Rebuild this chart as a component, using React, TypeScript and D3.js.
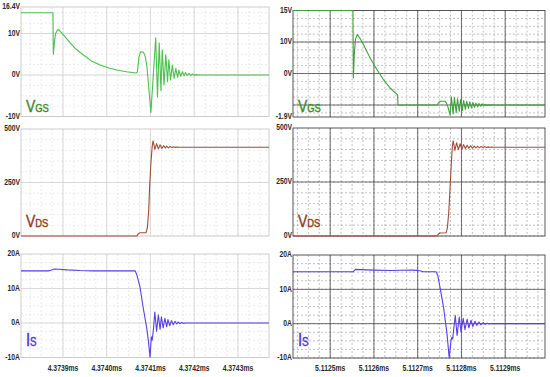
import * as d3 from "d3";

// time axis: ns after 4.3738 ms (left column) and after 5.1124 ms (right column)
const T_TICKS = [100, 200, 300, 400, 500];
const LEFT_T_LABELS = ["4.3739ms", "4.3740ms", "4.3741ms", "4.3742ms", "4.3743ms"];
const RIGHT_T_LABELS = ["5.1125ms", "5.1126ms", "5.1127ms", "5.1128ms", "5.1129ms"];

const VGS_L_TICKS = [16.4, 10, 0, -10];
const VGS_L_LABELS = ["16.4V", "10V", "0V", "-10V"];
const VGS_R_TICKS = [15, 10, 5, -1.9];
const VGS_R_LABELS = ["15V", "10V", "0V", "-1.9V"];
const VDS_TICKS = [500, 250, 0];
const VDS_LABELS = ["500V", "250V", "0V"];
const IS_TICKS = [20, 10, 0, -10];
const IS_LABELS = ["20A", "10A", "0A", "-10A"];

const LEFT_VGS: [number, number][] = [
  [4, 15], [77, 15], [78, 5], [80, 7.5], [83, 10], [88, 11], [93, 10.6], [100, 9.8],
  [116, 7.8], [130, 6.2], [146, 4.9], [165, 3.4], [185, 2.4], [205, 1.7], [223, 1.2],
  [245, 0.8], [267, 0.5], [270, 0.7], [274, 4.5], [278, 5.6], [284, 5.5], [288, 4.5],
  [292, 2.0], [296, -3], [301, -9], [312, 9.0], [316, -5.3], [320, 7.7], [324, -3.7],
  [327, 6.1], [331, -2.4], [335, 4.9], [339, -1.6], [342, 3.7], [346, -1.2], [350, 2.4],
  [354, -0.8], [358, 1.6], [362, -0.6], [365, 1.2], [369, -0.3], [373, 0.8], [377, -0.2],
  [380, 0.6], [384, -0.1], [388, 0.4], [392, -0.1], [396, 0.25], [400, -0.05], [404, 0.1],
  [410, 0], [571, 0],
];

const LEFT_VDS: [number, number][] = [
  [4, 0], [269, 0], [272, 10], [276, 15], [290, 16], [293, 40], [296, 120], [298, 228],
  [301, 340], [304, 420], [306, 445], [310, 405], [314, 432], [318, 407], [322, 426],
  [326, 409], [330, 422], [334, 411], [337, 420], [341, 412], [345, 418], [349, 413],
  [353, 417], [357, 414], [361, 416], [365, 414.5], [370, 415], [571, 415],
];

const LEFT_IS: [number, number][] = [
  [4, 15.1], [66, 15.1], [72, 15.3], [80, 15.65], [90, 15.6], [110, 15.4], [140, 15.2],
  [169, 15.1], [265, 15.1], [269, 13.9], [276, 10.5], [283, 4.7], [291, -1.1], [295, -4.9],
  [299, -9.9], [302, -4], [304, -5], [307, -1.5], [310, 3.2], [314, -2.4], [318, 2.4],
  [322, -1.9], [325, 1.8], [329, -1.45], [333, 1.35], [337, -1.1], [340, 1.0], [344, -0.8],
  [348, 0.7], [352, -0.5], [356, 0.5], [360, -0.3], [363, 0.3], [367, -0.2], [371, 0.15],
  [375, -0.1], [380, 0], [571, 0],
];

const RIGHT_VGS: [number, number][] = [
  [15, 15], [152, 15], [153, 4.3], [155, 8], [158, 10.5], [162, 11.2], [168, 10.6],
  [176, 9.6], [191, 7.5], [207, 5.6], [222, 4.0], [237, 2.7], [254, 1.6], [255, 0],
  [344, 0], [348, 0.4], [352, 0.6], [362, 0.6], [366, 0.3], [370, -0.5],
  [374, -1.6], [377, 1.3], [381, -1.4], [384, 1.2], [388, -1.2], [391, 1.0], [395, -1.0],
  [398, 0.85], [402, -0.85], [405, 0.7], [409, -0.7], [412, 0.6], [416, -0.55], [419, 0.5],
  [423, -0.45], [426, 0.4], [430, -0.35], [433, 0.3], [437, -0.28], [440, 0.24], [444, -0.2],
  [447, 0.18], [451, -0.15], [454, 0.13], [458, -0.1], [461, 0.08], [465, -0.06], [468, 0.05],
  [475, 0], [591, 0],
];

const RIGHT_VDS: [number, number][] = [
  [15, 0], [344, 0], [347, 8], [351, 14], [365, 15], [368, 40], [371, 110], [374, 223],
  [377, 340], [379, 410], [381, 441], [385, 396], [389, 432], [393, 400], [397, 427],
  [401, 403], [405, 423], [409, 405], [413, 420], [417, 406], [421, 418], [425, 407],
  [429, 416], [433, 408], [437, 415], [441, 409], [445, 414], [449, 409.5], [453, 413],
  [457, 410], [461, 412.5], [465, 410.5], [469, 412], [473, 410.8], [480, 411], [591, 411],
];

const RIGHT_IS: [number, number][] = [
  [15, 15.1], [153, 15.1], [155, 15.5], [158, 15.8], [170, 15.75], [200, 15.6], [240, 15.5],
  [260, 15.55], [290, 15.6], [305, 15.4], [313, 15.1], [342, 15.1], [346, 14], [351, 10.6],
  [359, 4.8], [367, -2.9], [372, -10], [376, -5], [378, -4], [380, -4.5], [382, -2],
  [386, 2.4], [390, -3.4], [395, 1.9], [399, -2.4], [404, 1.55], [408, -1.75], [413, 1.3],
  [417, -1.2], [422, 1.0], [426, -0.8], [431, 0.7], [435, -0.5], [440, 0.5], [444, -0.3],
  [450, 0.3], [454, -0.2], [459, 0.15], [463, -0.1], [468, 0.05], [475, 0], [591, 0],
];

type PanelProps = {
  left: number; right: number; top: number; bottom: number;
  xDomain: [number, number]; yDomain: [number, number];
  data: [number, number][]; color: string;
  yTicks: number[]; yLabels: string[];
  yMajor: number[]; yMinorStep: number;
  xLabels?: string[];
  dark: boolean;
  name: string; sub: string; nameColor: string; nameY: number;
  nameSize: number; subSize: number;
};

const TICK_FONT = "'Liberation Sans', Arial, sans-serif";

function Panel(p: PanelProps) {
  const x = d3.scaleLinear().domain(p.xDomain).range([p.left, p.right]);
  const y = d3.scaleLinear().domain(p.yDomain).range([p.bottom, p.top]);
  const line = d3.line<[number, number]>().x((d) => x(d[0])).y((d) => y(d[1]));

  const xMinor = d3.range(Math.ceil(p.xDomain[0] / 25) * 25, p.xDomain[1], 25);
  const yMinor = d3.range(
    Math.ceil(p.yDomain[0] / p.yMinorStep) * p.yMinorStep,
    p.yDomain[1],
    p.yMinorStep
  );
  const majorStroke = p.dark ? "#4a4a4a" : "#d2d2d2";
  const minorStroke = p.dark ? "#999" : "#dedede";
  const frame = p.dark ? "#444" : "#c8c8c8";

  return (
    <g>
      {xMinor.map((t) => (
        <line key={"xm" + t} x1={x(t)} x2={x(t)} y1={p.top} y2={p.bottom}
          stroke={minorStroke} strokeWidth={0.6} strokeDasharray="2,2" />
      ))}
      {yMinor.map((v) => (
        <line key={"ym" + v} x1={p.left} x2={p.right} y1={y(v)} y2={y(v)}
          stroke={minorStroke} strokeWidth={0.6} strokeDasharray="2,2" />
      ))}
      {T_TICKS.map((t) => (
        <line key={"xM" + t} x1={x(t)} x2={x(t)} y1={p.top} y2={p.bottom}
          stroke={majorStroke} strokeWidth={0.8} />
      ))}
      {p.yMajor.map((v) => (
        <line key={"yM" + v} x1={p.left} x2={p.right} y1={y(v)} y2={y(v)}
          stroke={majorStroke} strokeWidth={0.8} />
      ))}
      <rect x={p.left} y={p.top} width={p.right - p.left} height={p.bottom - p.top}
        fill="none" stroke={frame} strokeWidth={0.9} />
      <path d={line(p.data) || ""} fill="none" stroke={p.color} strokeWidth={1.1}
        strokeLinejoin="round" />
      {p.yTicks.map((v, i) => (
        <text key={"yl" + v}
          transform={`translate(${p.left - 1},${y(v)}) scale(0.8,1)`}
          textAnchor="end" dominantBaseline="middle" fontFamily={TICK_FONT}
          fontWeight="bold" fontSize={8.5} fill="#2a2a2a">
          {p.yLabels[i]}
        </text>
      ))}
      {p.xLabels && T_TICKS.map((t, i) => (
        <text key={"xl" + t}
          transform={`translate(${x(t)},${p.bottom + 11}) scale(0.8,1)`}
          textAnchor="middle" dominantBaseline="middle" fontFamily={TICK_FONT}
          fontWeight="bold" fontSize={8.5} fill="#2a2a2a">
          {p.xLabels![i]}
        </text>
      ))}
      <text transform={`translate(${p.left + 5},${p.nameY}) scale(0.82,1)`}
        fontFamily={TICK_FONT} fill={p.nameColor} stroke={p.nameColor} strokeWidth={0.4}>
        <tspan fontSize={p.nameSize}>{p.name}</tspan>
        <tspan fontSize={p.subSize}>{p.sub}</tspan>
      </text>
    </g>
  );
}

export default function App() {
  const L = { left: 21, right: 269, xDomain: [4, 571] as [number, number], dark: false };
  const R = { left: 293, right: 545, xDomain: [15, 591] as [number, number], dark: true };
  const vgsStyle = { name: "V", sub: "GS", nameColor: "#3a8a2a", nameSize: 17, subSize: 11.5 };
  const vdsStyle = { name: "V", sub: "DS", nameColor: "#8e3a1e", nameSize: 17, subSize: 11.5 };
  const isStyle = { name: "I", sub: "S", nameColor: "#4b34d8", nameSize: 18, subSize: 12 };

  return (
    <svg width={550} height={377} style={{ position: "absolute", left: 0, top: 0, background: "#fff" }}>
      <rect width={550} height={377} fill="#fff" />
      <Panel {...L} {...vgsStyle} top={7} bottom={116.5} yDomain={[-10, 16.4]}
        data={LEFT_VGS} color="#4cbf4c" yTicks={VGS_L_TICKS} yLabels={VGS_L_LABELS}
        yMajor={[10, 0]} yMinorStep={2.5} nameY={112} />
      <Panel {...L} {...vdsStyle} top={129} bottom={236} yDomain={[0, 500]}
        data={LEFT_VDS} color="#a24a36" yTicks={VDS_TICKS} yLabels={VDS_LABELS}
        yMajor={[250]} yMinorStep={50} nameY={227} />
      <Panel {...L} {...isStyle} top={254} bottom={357.5} yDomain={[-10, 20]}
        data={LEFT_IS} color="#5b3de8" yTicks={IS_TICKS} yLabels={IS_LABELS}
        yMajor={[10, 0]} yMinorStep={2.5} xLabels={LEFT_T_LABELS} nameY={346} />

      <Panel {...R} {...vgsStyle} top={10.5} bottom={117} yDomain={[-1.9, 15]}
        data={RIGHT_VGS} color="#3da03a" yTicks={VGS_R_TICKS} yLabels={VGS_R_LABELS}
        yMajor={[10, 5, 0]} yMinorStep={1.25} nameY={112} />
      <Panel {...R} {...vdsStyle} top={128} bottom={236} yDomain={[0, 500]}
        data={RIGHT_VDS} color="#a24a36" yTicks={VDS_TICKS} yLabels={VDS_LABELS}
        yMajor={[250]} yMinorStep={50} nameY={227} />
      <Panel {...R} {...isStyle} top={255} bottom={358} yDomain={[-10, 20]}
        data={RIGHT_IS} color="#5b3de8" yTicks={IS_TICKS} yLabels={IS_LABELS}
        yMajor={[10, 0]} yMinorStep={2.5} xLabels={RIGHT_T_LABELS} nameY={346} />
    </svg>
  );
}
